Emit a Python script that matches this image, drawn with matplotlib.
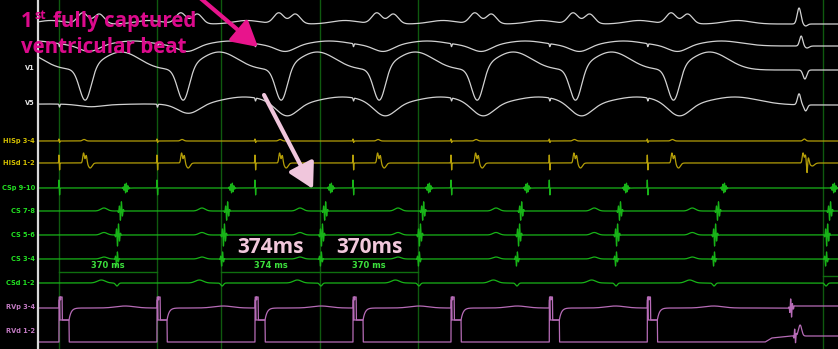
"""
Intracardiac tracing: entrainment from the RV, CS / HIS / surface leads
"""

import numpy as np
import matplotlib.pyplot as plt
from matplotlib.patches import ArrowStyle


# ── Time base (ms from the left border of the tracing) ─────────────────────
MS_PER_PX = 370 / 98.0
T_END = 3020
t = np.arange(0, T_END + 0.5, 0.5)

# ── Events ───────────────────────────────────────────
pace_ms = [79, 449, 819, 1189, 1559, 1930, 2300]     # RV stimuli
qrs_ms = [-291] + pace_ms                            # paced QRS (1st off-screen)
v5_depth = [1, 2, 9, 13, 13, 13, 13, 13]             # V5 trough per beat
v5_hump = [1, 1, 8, 8, 8, 8, 8, 8]
spont_ms = 2873                                      # first beat after pacing

csp_ms = [332, 732, 1106, 1476, 1846, 2220, 2590, 3005]
cs78_ms = [313, 714, 1084, 1454, 1824, 2197, 2567, 2990]
cs56_ms = [302, 702, 1072, 1442, 1816, 2186, 2556, 2979]
cs34_ms = [298, 695, 1068, 1438, 1808, 2182, 2552, 2975]

caliper_ms = [79, 449, 691, 1065, 1435, 2964]
caliper_spans = [(79, 449), (691, 1065), (1065, 1435)]
caliper_labels = ['370 ms', '374 ms', '370 ms']
big_labels = ['374ms', '370ms']

# channel name, label row, baseline row, colour (None = label hidden)
channels = [
    ('I', None, 24, None),
    ('aVF', None, 46, None),
    ('V1', 68, 70, '#e6e6e6'),
    ('V5', 103, 105, '#e6e6e6'),
    ('HISp 3-4', 141, 141, '#d2be00'),
    ('HISd 1-2', 163, 163, '#d2be00'),
    ('CSp 9-10', 188, 188, '#22e022'),
    ('CS 7-8', 211, 211, '#22e022'),
    ('CS 5-6', 235, 235, '#22e022'),
    ('CS 3-4', 259, 259, '#22e022'),
    ('CSd 1-2', 283, 283, '#22e022'),
    ('RVp 3-4', 307, 308, '#c27ac2'),
    ('RVd 1-2', 331, 342, '#c27ac2'),
]
base = {c[0]: c[2] for c in channels}


def px2t(x):
    return (x - 38) * MS_PER_PX


def g(c, w):
    return np.exp(-0.5 * ((t - c) / w) ** 2)


def burst(c, amp, w=5.0, period=7.0):
    return amp * g(c, w) * np.sin(2 * np.pi * (t - c) / period)


# ── Surface leads ──────────────────────────────────────────────────────────
lead_i = sum(11 * g(p + 90, 19) + 10 * g(p + 152, 19) + 3.5 * g(p + 340, 50)
             for p in qrs_ms)
lead_i += 16 * g(spont_ms, 7) - 2 * g(spont_ms + 25, 7)

lead_avf = sum(-6 * g(p + 115, 35) + 5 * g(p + 280, 75) for p in qrs_ms)
lead_avf += sum(-3 * g(p + 2, 1.5) for p in pace_ms)
lead_avf += 10 * g(spont_ms + 8, 6) - 2 * g(spont_ms + 30, 8)

lead_v1 = sum(-33 * g(p + 100, 22) + 18 * g(p + 235, 70) for p in qrs_ms)
lead_v1 += -9 * g(spont_ms + 22, 7)

lead_v5 = sum(-d * g(p + 120, 40) + h * g(p + 330, 90)
              for p, d, h in zip(qrs_ms, v5_depth, v5_hump))
lead_v5 += sum(-3 * g(p + 2, 1.5) for p in pace_ms)
lead_v5 += 11 * g(spont_ms, 6) - 6 * g(spont_ms + 25, 6)

# ── HIS ────────────────────────────────────────────────────────────────────
his_p = sum(2 * g(p, 0.8) - 1.5 * g(p + 2.5, 0.8) + 1.5 * g(p + 95, 6)
            for p in pace_ms)
his_p += 2 * g(spont_ms + 20, 5)

his_d = sum(8 * g(p, 0.8) - 7 * g(p + 2.5, 0.8) + 10 * g(p + 93, 3)
            + 8 * g(p + 103, 3) - 5 * g(p + 118, 7) for p in pace_ms)
his_d += (10 * g(spont_ms + 15, 3) + 8 * g(spont_ms + 24, 3)
          - 12 * g(spont_ms + 30, 2) + 6 * g(spont_ms + 35, 3)
          - 3 * g(spont_ms + 50, 8))

# ── CS ─────────────────────────────────────────────────────────────────────
cs_p = sum(8 * g(p, 0.8) - 7 * g(p + 2.5, 0.8) for p in pace_ms)
cs_p += sum(burst(a, 5, 6, 6) for a in csp_ms)

cs_78 = sum(burst(a, 10, 5, 8) for a in cs78_ms)
cs_78 += sum(3 * g(p + 170, 12) for p in qrs_ms)
cs_56 = sum(burst(a, 12, 5, 8) for a in cs56_ms)
cs_56 += sum(2.5 * g(p + 170, 12) for p in qrs_ms)
cs_34 = sum(burst(a, 8, 4, 8) for a in cs34_ms)
cs_34 += sum(2 * g(p + 170, 12) for p in qrs_ms)
cs_d = sum(-3 * g(a, 5) for a in cs34_ms)
cs_d += sum(3 * g(p + 160, 15) for p in qrs_ms)

# ── RV (stimulus + amplifier saturation) ───────────────────────────────────
rvp = np.full_like(t, base['RVp 3-4'], dtype=float)
rvp -= sum(2 * g(p + 250, 35) for p in pace_ms)
rvd = np.interp(t, [0, 2745, 2770, 2840, T_END], [342, 342, 338, 336, 336])
rvp_tpl = ([0, 1, 5, 6, 7, 12, 13, 38], [308, 297, 297, 300, 297, 297, 320, 320])
rvd_tpl = ([0, 0.5, 3, 4, 38, 39], [342, 300, 300, 320, 320, 342])
for p in pace_ms:
    m = (t >= p) & (t <= p + 38)
    rvp[m] = np.interp(t[m] - p, *rvp_tpl)
    after = t > p + 38
    rvp[after] += 12 * np.exp(-(t[after] - p - 38) / 8)
    m = (t >= p) & (t <= p + 39)
    rvd[m] = np.interp(t[m] - p, *rvd_tpl)
rvp += burst(spont_ms - 30, 10, 4, 7) - 2 * (t > spont_ms - 20)
rvd += burst(spont_ms - 15, 8, 3, 7) - 11 * g(spont_ms + 4, 6)

traces = {
    'I': lead_i, 'aVF': lead_avf, 'V1': lead_v1, 'V5': lead_v5,
    'HISp 3-4': his_p, 'HISd 1-2': his_d,
    'CSp 9-10': cs_p, 'CS 7-8': cs_78, 'CS 5-6': cs_56,
    'CS 3-4': cs_34, 'CSd 1-2': cs_d,
}
trace_col = {'I': '#d2d2d2', 'aVF': '#d2d2d2', 'V1': '#d2d2d2', 'V5': '#d2d2d2',
             'HISp 3-4': '#b49e08', 'HISd 1-2': '#b49e08'}

# ── Figure ─────────────────────────────────────────────────────────────────
fig = plt.figure(figsize=(8.38, 3.49), dpi=100)
fig.patch.set_facecolor('black')
ax = fig.add_axes([0, 0, 1, 1])
ax.set_facecolor('black')
ax.set_xlim(px2t(0), T_END)
ax.set_ylim(349, 0)
ax.axis('off')

for c in caliper_ms:
    ax.axvline(c, color='#0f5a0f', lw=1.0, zorder=1)
ax.axvline(0, color='#d8d8d8', lw=1.6, zorder=4)

for name, tr in traces.items():
    ax.plot(t, base[name] - tr, color=trace_col.get(name, '#18b418'),
            lw=0.9, zorder=3)
ax.plot(t, rvp, color='#b76cb7', lw=0.9, zorder=3)
ax.plot(t, rvd, color='#b76cb7', lw=0.9, zorder=3)

for name, ly, _, col in channels:
    if ly is None:
        continue
    ax.text(px2t(35), ly, name, color=col, fontsize=4.8, fontweight='bold',
            ha='right', va='center', zorder=5)

# calipers
for (a, b), lab in zip(caliper_spans, caliper_labels):
    ax.plot([a, b], [272, 272], color='#0f6e0f', lw=1.0, zorder=2)
    ax.text((a + b) / 2, 266, lab, color='#3ce03c', fontsize=6,
            fontweight='bold', ha='center', va='center', zorder=5)
ax.plot([caliper_ms[-1], T_END], [276, 276], color='#0f6e0f', lw=1.0, zorder=2)

for (a, b), lab in zip(caliper_spans[1:], big_labels):
    ax.text((a + b) / 2, 253, lab, color='#f2c8dc', fontsize=15,
            fontweight='bold', family='Open Sans', ha='center',
            va='baseline', zorder=6)

# annotation
mag = '#dc0a8c'
ax.text(px2t(21), 27, '1', color=mag, fontsize=14.8, fontweight='bold',
        family='Open Sans', va='baseline', zorder=6)
ax.text(px2t(34), 19, 'st', color=mag, fontsize=9, fontweight='bold',
        family='Open Sans', va='baseline', zorder=6)
ax.text(px2t(53), 27, 'fully captured', color=mag, fontsize=14.8,
        fontweight='bold', family='Open Sans', va='baseline', zorder=6)
ax.text(px2t(21), 53, 'ventricular beat', color=mag, fontsize=14.8,
        fontweight='bold', family='Open Sans', va='baseline', zorder=6)

head = ArrowStyle('-|>', head_length=0.75, head_width=0.42)
ax.annotate('', xy=(px2t(258), 47), xytext=(px2t(199), -3),
            arrowprops=dict(arrowstyle=head, color='#e8148c', lw=3,
                            mutation_scale=20, shrinkA=0, shrinkB=0),
            zorder=7)
ax.annotate('', xy=(px2t(313), 189), xytext=(px2t(264), 95),
            arrowprops=dict(arrowstyle=head, color='#f0c6dc', lw=3,
                            mutation_scale=20, shrinkA=0, shrinkB=0),
            zorder=7)

fig.savefig('out.png', dpi=100, facecolor='black')
